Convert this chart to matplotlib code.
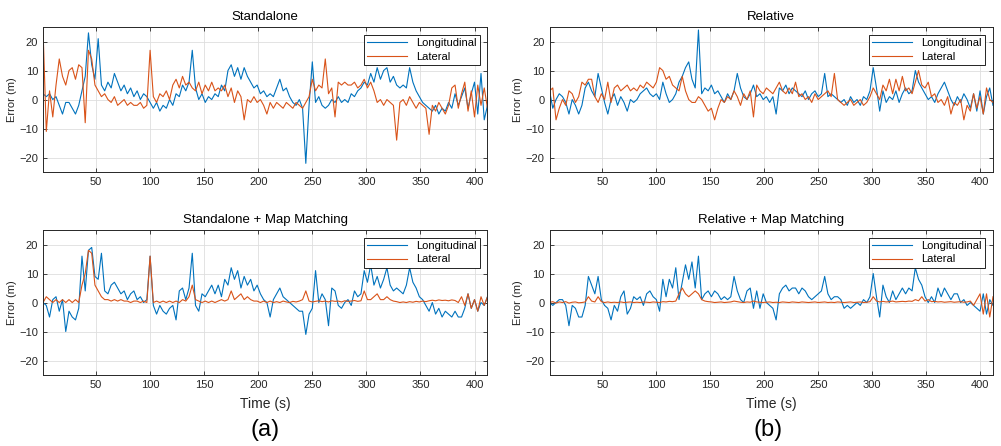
import numpy as np
import matplotlib
matplotlib.use("Agg")
import matplotlib.pyplot as plt

plt.rcParams["font.family"] = ["Liberation Sans", "DejaVu Sans"]

# time axis (s), one value every 3 s
t = np.arange(1, 413, 3)

# Standalone
sa_lon = [2, 1, 2, 0, 1, -2, -5, -1, -1, -3,
          -5, -2, 3, 8, 23, 12, 7, 21, 5, 3,
          6, 4, 9, 6, 3, 5, 2, 4, 1, 3,
          0, 2, 1, -1, -3, -1, -4, -2, -3, 0,
          -2, 2, 1, 5, 3, 6, 17, 4, 0, 2,
          -1, 1, 0, 2, 1, 5, 3, 10, 12, 8,
          11, 7, 11, 8, 6, 4, 5, 2, 3, 1,
          2, 1, 4, 7, 3, 4, 1, -1, -2, 0,
          -3, -22, -2, 13, -1, 1, -2, -3, -2, 0,
          -1, 1, -1, 0, -1, 2, 1, 3, 4, 6,
          5, 9, 6, 11, 7, 10, 11, 6, 8, 5,
          4, 5, 4, 11, 6, 3, 1, -1, -2, -3,
          -4, -2, -5, -3, -4, -1, -3, 2, -2, 1,
          4, -3, 2, 6, -5, 9, -7, -2]
sa_lat = [24, -11, 3, -6, 5, 14, 8, 5, 10, 11,
          7, 12, 11, -8, 17, 14, 5, 3, 1, 2,
          0, -1, 1, -2, -1, 0, -2, -1, -2, -2,
          -1, -3, -2, 17, 1, -1, 2, 1, 3, 0,
          5, 7, 4, 8, 5, 6, 4, 3, 6, 2,
          5, 3, 6, 3, 4, 3, 5, 1, 4, -1,
          3, 1, -7, 0, -1, 1, -1, 0, -2, -5,
          -1, -3, -1, -2, -3, -1, -2, -3, -1, -2,
          -3, -1, 1, 7, 3, 5, 4, 14, 2, 4,
          -6, 6, 5, 6, 5, 5, 6, 4, 5, 7,
          4, 6, 3, -1, 0, -2, 0, -1, -2, -14,
          -1, 0, -2, 1, -1, -3, -1, -2, -3, -12,
          -2, -4, -1, -3, -5, -2, 4, 5, -3, 2,
          6, -4, 3, -6, 5, -2, 4, -3]

# Relative
rel_lon = [3, -3, 0, 2, 1, -1, -5, 0, -2, -5,
           -2, 4, 6, 3, 1, 9, 4, -1, -5, 0,
           2, -2, 1, -1, -4, 0, -1, 0, 2, 3,
           4, 2, 1, 2, 0, 6, 2, -1, 0, 2,
           6, 8, 11, 13, 7, 4, 24, 2, 4, 3,
           5, 2, 3, 1, -1, 2, 0, 3, 9, 4,
           1, 0, 2, 5, 1, 2, 0, 1, -1, 1,
           -5, 4, 3, 5, 2, 4, 3, 2, 1, 3,
           0, 2, 3, 1, 2, 9, 1, 2, 1, 0,
           -1, 0, -2, 1, -1, 0, -2, 1, 0, 3,
           11, 4, -4, 3, -1, 1, 0, 3, -1, 2,
           4, 2, 3, 10, 6, 4, 2, 0, 1, -1,
           2, 4, 6, 3, 0, -2, 1, -1, 2, 0,
           -3, 2, -4, 3, -5, 1, 4, -2]
rel_lat = [3, 4, -7, -3, 0, -2, 3, 2, -1, 1,
           6, 5, 7, 7, 1, -1, 2, 0, 6, -1,
           4, 5, 3, 4, 5, 3, 4, 3, 5, 4,
           6, 5, 4, 6, 11, 10, 7, 8, 5, 4,
           3, 8, 3, 0, -1, -1, 1, 0, -2, -4,
           -3, -7, -3, 0, -1, 1, 0, 3, 1, -2,
           2, 0, 3, -6, 5, 3, 2, 4, 3, 2,
           4, 6, 3, 2, 4, 2, 6, 1, 2, 0,
           1, -1, 2, 0, 1, 2, 3, 1, 9, 0,
           -1, -2, -1, 0, -2, -1, 0, -2, -1, 1,
           4, 2, 0, 5, 3, 7, 2, 7, 3, 8,
           3, 4, 2, 6, 10, 5, 4, 6, 1, 2,
           -1, 0, -2, 1, -5, -1, -2, 0, -7, -2,
           -4, 2, -3, 1, -5, 4, 0, -1]

# Standalone + Map Matching
samm_lon = [0, -1, -5, 1, 2, -3, 1, -10, -3, -5,
            -6, -2, 16, 4, 18, 19, 9, 8, 17, 4,
            3, 6, 7, 5, 3, 4, 1, 3, 4, 1,
            2, 0, 1, 16, -1, -4, -1, -3, -4, -2,
            -1, -6, 4, 5, 1, 5, 17, -1, -3, 3,
            2, 4, 6, 3, 6, 2, 8, 6, 12, 8,
            11, 5, 9, 6, 8, 4, 6, 3, 1, 0,
            -5, 1, 3, 5, 2, 1, 0, -1, -2, -3,
            -3, -11, -4, -2, 11, 0, 3, 1, -8, 5,
            4, -1, -2, 0, 1, -1, 4, 2, 3, 11,
            7, 13, 6, 9, 5, 8, 12, 6, 4, 5,
            4, 3, 6, 12, 7, 5, 2, 1, -1, -3,
            0, -4, -2, -5, -3, -4, -5, -3, -5, -5,
            -2, 3, -2, 1, -3, 0, -1, 2]
samm_lat = [0, 2, 1, 0, 1, 0, 1, 0, 1, 0,
            1, 0, 6, 10, 18, 17, 6, 4, 2, 1,
            1, 0.5, 1, 0.5, 1, 0.5, 0.5, 0, 0.5, 0.5,
            0, 0.5, 0, 16, 0, 0.5, 0, 0.5, 0, 0.5,
            0, 0.5, 0, 1, 0.5, 2, 6, 1, 0.5, 0,
            0.5, 0, 0.5, 0, 0.5, 1, 0.5, 1, 4, 1,
            2, 3, 1, 2, 1, 0.5, 0.5, 0, 0.5, 0,
            0.5, 0, 0.3, 0, 0.5, 0.2, 0, 0.4, 0.2, 0.5,
            1, 4, 0.5, 0.2, 0.4, 0.6, 0.3, 0.5, 0.2, 0.6,
            0.4, 0.5, 0.2, 0.6, 0.4, 0.5, 0.7, 0.4, 0.6, 4,
            1, 1, 2, 3, 1, 1, 2, 1, 0.5, 0.3,
            0, 0.2, 0, 0.3, 0.1, 0.4, 0.2, 0.5, 0.3, 0.6,
            0.8, 0.6, 0.9, 0.7, 0.8, 0.6, 0.9, 0.7, 0, 2,
            -1, 3, -2, 1, -3, 2, -1, 2]

# Relative + Map Matching
rmm_lon = [0, -1, 0, 1, 1, -1, -8, -1, -2, -5,
           -5, -1, 9, 6, 3, 9, 1, -1, -2, -6,
           -1, -3, 2, 4, -4, -2, 2, 1, 2, -1,
           3, 4, 2, 1, -3, 8, 2, 8, 5, 12,
           1, 7, 13, 8, 14, 5, 16, 1, 3, 4,
           2, 4, 3, 1, 2, 1, 2, 9, 4, 1,
           0, 4, 5, -2, 4, -2, 3, 0, -1, -2,
           -6, 3, 5, 6, 4, 5, 5, 3, 5, 4,
           2, 1, 2, 3, 4, 9, 3, 1, 2, 2,
           1, -2, -1, -2, -1, 0, -1, 1, 0, 2,
           10, 2, -5, 6, 2, 0, 4, 1, 3, 5,
           3, 5, 4, 12, 8, 6, 2, 0, 2, 0,
           5, 2, 5, 3, 1, 3, 3, 0, 1, -1,
           0, -1, -2, -3, 3, -4, 1, -1]
rmm_lat = [0, 0.3, -0.2, 0.2, 0, 0.3, -0.2, 0.1, 0.2, -0.1,
           0, 0.2, 2, 0.5, 0.2, 2, 0.3, 0, 0.2, 0,
           0.1, 0, 0.2, 0, 0.1, 0.2, 0, 0.1, 0, 0.2,
           0.1, 0, 0.2, 0.1, 0, 0.3, 0.2, 0.4, 0.3, 0.5,
           3, 5, 3, 2, 3, 4, 3, 1, 0.5, 0.3,
           0.2, 0, 0.1, 0.2, 0, 0.1, 0.2, 0.5, 0.3, 0.1,
           0, 0.2, 0.1, 0.5, 0.2, 0.1, 0, 0.1, 0.2, 0,
           0.1, 0, 0.2, 0.1, 0, 0.2, 0.1, 0, 0.2, 0.1,
           0, 0.1, 0.2, 0, 0.1, 0.2, 0, 0.1, 0, 0.2,
           0.1, 0, 0.1, 0.2, 0, 0.1, 0.2, 0, 0.1, 0.3,
           2, 0.5, 0.2, 0.4, 0.2, 0.3, 0.5, 0.2, 0.3, 0.4,
           0.3, 0.5, 0.4, 1, 0.6, 2, 0.5, 1, 0.3, 0.4,
           0.2, 0.3, 0.1, 0.2, 0.3, 0.1, 0.2, 0.3, 0.1, 0.2,
           0.5, -1, 1, 3, -4, 3, -5, 2]

panels = [
    ("Standalone", sa_lon, sa_lat),
    ("Relative", rel_lon, rel_lat),
    ("Standalone + Map Matching", samm_lon, samm_lat),
    ("Relative + Map Matching", rmm_lon, rmm_lat),
]

blue = "#0072BD"
orange = "#D95319"
axcol = "#262626"

fig = plt.figure(figsize=(10.01, 4.46), dpi=100)
pos = [
    [0.043, 0.6143, 0.444, 0.325],
    [0.549, 0.6143, 0.443, 0.325],
    [0.043, 0.1592, 0.444, 0.325],
    [0.549, 0.1592, 0.443, 0.325],
]

for i, (title, lon, lat) in enumerate(panels):
    ax = fig.add_axes(pos[i])
    ax.plot(t, lon, color=blue, lw=0.8, label="Longitudinal")
    ax.plot(t, lat, color=orange, lw=0.8, label="Lateral")
    ax.set_xlim(1, 412)
    ax.set_ylim(-25, 25)
    ax.set_xticks(range(50, 401, 50))
    ax.set_yticks([-20, -10, 0, 10, 20])
    ax.grid(True, color="#dedede", lw=0.6)
    ax.set_axisbelow(True)
    ax.tick_params(direction="in", labelsize=8, colors=axcol, length=3,
                   top=True, right=True, width=0.6)
    for s in ax.spines.values():
        s.set_color(axcol)
        s.set_linewidth(0.7)
    ax.set_title(title, fontsize=9.5, color="black", pad=5)
    ax.set_ylabel("Error (m)", fontsize=8, color=axcol, labelpad=2)
    if i >= 2:
        ax.set_xlabel("Time (s)", fontsize=10, color=axcol, labelpad=5)
    leg = ax.legend(loc="upper right", fontsize=8, frameon=True, fancybox=False,
                    edgecolor="black", framealpha=1, handlelength=3.6,
                    borderpad=0.3, labelspacing=0.3, borderaxespad=0.7)
    leg.get_frame().set_linewidth(0.6)

fig.text(0.265, 0.035, "(a)", fontsize=17, ha="center", va="center")
fig.text(0.767, 0.035, "(b)", fontsize=17, ha="center", va="center")

fig.savefig("out.png", dpi=100)
